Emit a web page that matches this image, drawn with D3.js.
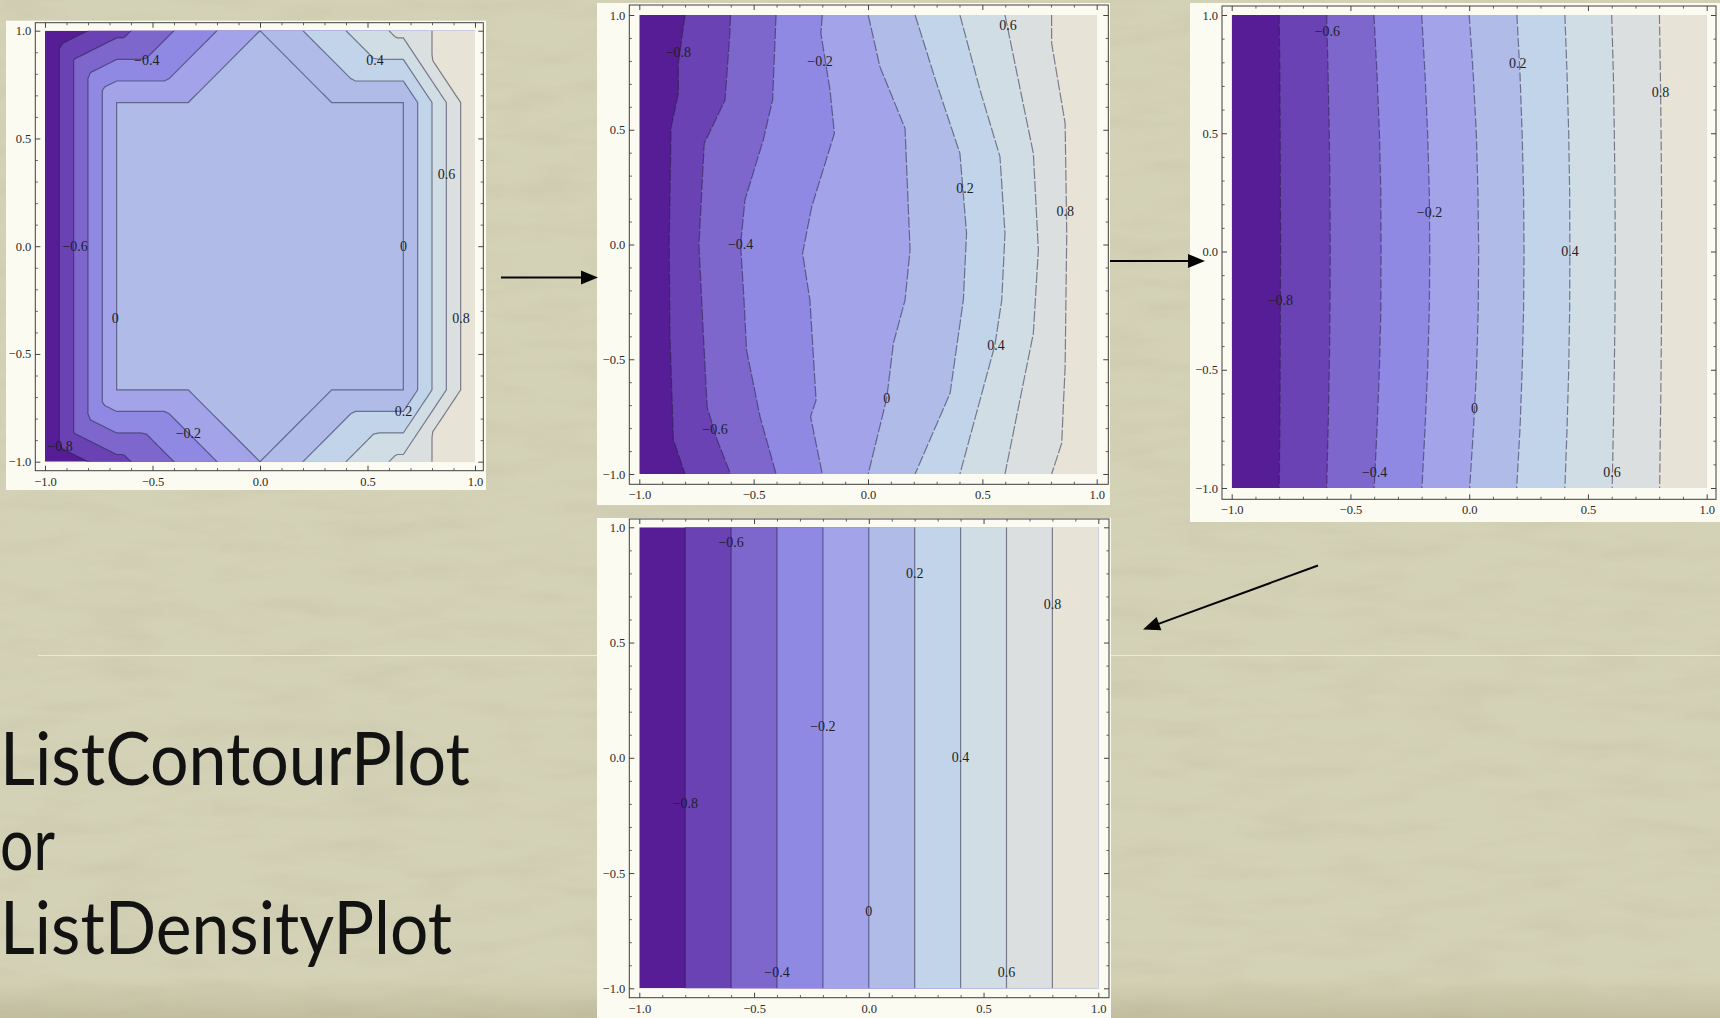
<!DOCTYPE html>
<html>
<head>
<meta charset="utf-8">
<script src="https://cdn.jsdelivr.net/npm/d3@7"></script>
<style>
  html, body { margin: 0; padding: 0; overflow: hidden; background: #d5d3b7; }
  svg { display: block; }
</style>
</head>
<body>
<svg id="slide" width="1720" height="1018"></svg>
<script>
// ---------- shared contour settings ----------
const levels = [-0.8, -0.6, -0.4, -0.2, 0, 0.2, 0.4, 0.6, 0.8];
const bandColors = ["#561d97", "#6a42b4", "#7d67cd", "#8f89e4", "#a2a3e8",
                    "#b0bce7", "#c1d4e9", "#d0dde4", "#dcdfdf", "#e7e3d7"];
const majorTicks = [-1, -0.5, 0, 0.5, 1];
const minorTicks = [-0.9, -0.8, -0.7, -0.6, -0.4, -0.3, -0.2, -0.1,
                    0.1, 0.2, 0.3, 0.4, 0.6, 0.7, 0.8, 0.9];

// ---------- stage 1: 7×7 samples, boundary u = x, interior 0 ----------
const stage1X = [-1, -0.6667, -0.3333, 0, 0.3333, 0.6667, 1];
const stage1Y = [1, 0.6667, 0.3333, 0, -0.3333, -0.6667, -1];
const stage1Values = [
  [-1, -0.6667, -0.3333, 0, 0.3333, 0.6667, 1],
  [-1, 0, 0, 0, 0, 0, 1],
  [-1, 0, 0, 0, 0, 0, 1],
  [-1, 0, 0, 0, 0, 0, 1],
  [-1, 0, 0, 0, 0, 0, 1],
  [-1, 0, 0, 0, 0, 0, 1],
  [-1, -0.6667, -0.3333, 0, 0.3333, 0.6667, 1]
];
// mesh split of each cell: "b" = top-left to bottom-right, "f" = top-right to bottom-left
const stage1Mesh = ["bbfbfb", "bbbbbb", "bbbbbb", "bbbbbb", "bbbbbb", "ffbfbf"];
// [level, x, y] of each contour label
const stage1Labels = [
  [-0.4, -0.527, 0.864], [0.4, 0.535, 0.864], [0.6, 0.868, 0.335],
  [-0.6, -0.86, 0], [0, 0.667, 0], [0, -0.673, -0.335], [0.8, 0.935, -0.335],
  [0.2, 0.667, -0.768], [-0.2, -0.333, -0.869], [-0.8, -0.93, -0.93]
];

// ---------- stage 2: contour lines, [x, y] from top to bottom, one per level ----------
const stage2Lines = [
  [[-0.800, 1], [-0.829, 0.79], [-0.829, 0.66], [-0.861, 0.51], [-0.869, 0.02], [-0.866, -0.39], [-0.851, -0.85], [-0.800, -1]],
  [[-0.601, 1], [-0.604, 0.92], [-0.625, 0.63], [-0.716, 0.44], [-0.739, 0.0], [-0.720, -0.39], [-0.703, -0.71], [-0.660, -0.85], [-0.601, -1]],
  [[-0.402, 1], [-0.417, 0.63], [-0.458, 0.455], [-0.538, 0.194], [-0.557, 0], [-0.542, -0.242], [-0.531, -0.46], [-0.472, -0.75], [-0.402, -1]],
  [[-0.200, 1], [-0.206, 0.92], [-0.166, 0.673], [-0.147, 0.484], [-0.246, 0.165], [-0.286, -0.038], [-0.254, -0.242], [-0.227, -0.678], [-0.251, -0.75], [-0.200, -1]],
  [[0.001, 1], [0.052, 0.775], [0.162, 0.506], [0.184, -0.024], [0.162, -0.242], [0.111, -0.431], [0.082, -0.67], [0.001, -1]],
  [[0.206, 1], [0.300, 0.702], [0.402, 0.397], [0.431, 0.049], [0.417, -0.242], [0.359, -0.648], [0.206, -1]],
  [[0.402, 1], [0.490, 0.673], [0.577, 0.383], [0.599, 0.049], [0.585, -0.242], [0.555, -0.438], [0.402, -1]],
  [[0.599, 1], [0.723, 0.397], [0.745, -0.024], [0.723, -0.387], [0.599, -1]],
  [[0.803, 1], [0.803, 0.877], [0.862, 0.528], [0.869, 0.049], [0.862, -0.532], [0.847, -0.866], [0.803, -1]]
];
const stage2Labels = [
  [-0.8, -0.829, 0.836], [-0.2, -0.21, 0.797], [0.6, 0.612, 0.956], [0.2, 0.424, 0.245],
  [0.8, 0.862, 0.143], [-0.4, -0.557, 0], [0.4, 0.56, -0.438], [0, 0.082, -0.67], [-0.6, -0.669, -0.808]
];

// ---------- stage 3: contour x positions at fixed heights ----------
const stage3Rows = [1, 0.75, 0.5, 0.25, 0, -0.25, -0.5, -0.75, -1];
const stage3X = [
  [-0.800, -0.797, -0.796, -0.795, -0.794, -0.795, -0.796, -0.797, -0.800],
  [-0.600, -0.594, -0.589, -0.586, -0.585, -0.586, -0.589, -0.594, -0.600],
  [-0.401, -0.388, -0.378, -0.372, -0.371, -0.372, -0.378, -0.388, -0.400],
  [-0.200, -0.186, -0.175, -0.168, -0.166, -0.168, -0.175, -0.186, -0.199],
  [0.000, 0.017, 0.030, 0.037, 0.040, 0.038, 0.031, 0.018, 0.002],
  [0.201, 0.214, 0.223, 0.229, 0.231, 0.229, 0.223, 0.214, 0.200],
  [0.403, 0.412, 0.419, 0.423, 0.424, 0.423, 0.419, 0.412, 0.403],
  [0.600, 0.607, 0.611, 0.614, 0.615, 0.614, 0.611, 0.607, 0.602],
  [0.801, 0.805, 0.808, 0.810, 0.810, 0.810, 0.808, 0.805, 0.802]
];
const stage3Labels = [
  [-0.6, -0.597, 0.932], [0.2, 0.204, 0.795], [0.8, 0.805, 0.671], [-0.2, -0.167, 0.164],
  [0.4, 0.424, 0.002], [-0.8, -0.795, -0.207], [0, 0.022, -0.665], [-0.4, -0.398, -0.934], [0.6, 0.601, -0.934]
];

// ---------- stage 4: converged field u = x ----------
const stage4X = [-0.8, -0.6, -0.4, -0.2, 0, 0.2, 0.4, 0.6, 0.8];
const stage4Labels = [
  [-0.6, -0.6, 0.933], [0.2, 0.2, 0.8], [0.8, 0.8, 0.667], [-0.2, -0.2, 0.135],
  [0.4, 0.4, 0], [-0.8, -0.8, -0.197], [0, 0, -0.667], [-0.4, -0.4, -0.932], [0.6, 0.6, -0.932]
];

// ---------- slide text ----------
const titleLines = ["ListContourPlot", "or", "ListDensityPlot"];

// ---------- page layout (pixels) ----------
const panelBoxes = [
  { id: 1, paper: [6, 20.7, 486, 490],   plot: [45, 30.7, 475, 461.7],      frame: [35.3, 22.7, 483.3, 470.7] },
  { id: 2, paper: [597, 3, 1110, 505],   plot: [639.3, 15, 1096.7, 474],    frame: [629.3, 5, 1108.3, 484.3] },
  { id: 3, paper: [1190, 3, 1720, 522],  plot: [1231.7, 15, 1706.7, 488],   frame: [1222, 6, 1716, 499.3] },
  { id: 4, paper: [597, 518, 1111, 1018], plot: [639.3, 527.3, 1098.3, 988.3], frame: [629.3, 519, 1109, 997.7] }
];

const svg = d3.select("#slide");
const defs = svg.append("defs");

// ---------- paper background ----------
svg.append("rect").attr("width", 1720).attr("height", 1018).attr("fill", "#d4d2b6");
const paper = defs.append("filter").attr("id", "paperGrain")
  .attr("x", 0).attr("y", 0).attr("width", "100%").attr("height", "100%");
paper.append("feTurbulence").attr("type", "fractalNoise")
  .attr("baseFrequency", "0.012 0.05").attr("numOctaves", 4).attr("seed", 11);
paper.append("feColorMatrix").attr("type", "matrix")
  .attr("values", "0 0 0 0 0.45  0 0 0 0 0.43  0 0 0 0 0.30  0.8 0 0 0 -0.33");
svg.append("rect").attr("width", 1720).attr("height", 1018)
  .attr("filter", "url(#paperGrain)").attr("opacity", 0.45);
const floor = defs.append("linearGradient").attr("id", "floorShade")
  .attr("x1", 0).attr("y1", 0).attr("x2", 0).attr("y2", 1);
floor.append("stop").attr("offset", 0).attr("stop-color", "#9c8f6c").attr("stop-opacity", 0);
floor.append("stop").attr("offset", 1).attr("stop-color", "#9c8f6c").attr("stop-opacity", 0.3);
svg.append("rect").attr("x", 0).attr("y", 978).attr("width", 1720).attr("height", 40)
  .attr("fill", "url(#floorShade)");

// title rule
svg.append("line").attr("x1", 38).attr("x2", 1720).attr("y1", 655.5).attr("y2", 655.5)
  .attr("stroke", "#eeeee8").attr("stroke-width", 1).attr("opacity", 0.85);

// ---------- helpers ----------
const fmtTick = d3.format(".1f");
const fmtLevel = v => (v === 0 ? "0" : d3.format(".1f")(v));
const lineStroke = "rgba(34,30,62,0.52)";

// Piecewise-linear field on the triangles of each cell, sampled finely so that
// d3.contours follows the triangle geometry.
function triangulatedField(values, mesh, k) {
  const rows = values.length, cols = values[0].length;
  const W = (cols - 1) * k + 1, H = (rows - 1) * k + 1;
  const out = new Float64Array(W * H);
  for (let r = 0; r < H; r++) {
    for (let c = 0; c < W; c++) {
      const i = Math.min(Math.floor(c / k), cols - 2);
      const j = Math.min(Math.floor(r / k), rows - 2);
      const u = c / k - i, v = r / k - j;
      const tl = values[j][i], tr = values[j][i + 1];
      const bl = values[j + 1][i], br = values[j + 1][i + 1];
      let val;
      if (mesh[j][i] === "f") {
        val = (u + v <= 1) ? tl + u * (tr - tl) + v * (bl - tl)
                           : br + (1 - u) * (bl - br) + (1 - v) * (tr - br);
      } else {
        val = (u >= v) ? tl + u * (tr - tl) + v * (br - tr)
                       : tl + v * (bl - tl) + u * (br - bl);
      }
      out[r * W + c] = Math.round(val * 1e9) / 1e9;
    }
  }
  return { out, W, H };
}

function drawFrame(g, box, x, y) {
  const [l, t, r, b] = box.frame;
  const sides = [
    { make: d3.axisBottom, scale: x, at: `translate(0,${b})`, labelled: true },
    { make: d3.axisLeft,   scale: y, at: `translate(${l},0)`, labelled: true },
    { make: d3.axisTop,    scale: x, at: `translate(0,${t})`, labelled: false },
    { make: d3.axisRight,  scale: y, at: `translate(${r},0)`, labelled: false }
  ];
  sides.forEach(s => {
    const minor = g.append("g").attr("transform", s.at)
      .call(s.make(s.scale).tickValues(minorTicks).tickSizeInner(-2.6).tickSizeOuter(0).tickFormat(() => ""));
    minor.select(".domain").remove();
    minor.selectAll("line").attr("stroke", "#555").attr("stroke-width", 0.9);
    const major = g.append("g").attr("transform", s.at)
      .call(s.make(s.scale).tickValues(majorTicks).tickSizeInner(-5).tickSizeOuter(0)
        .tickPadding(s.labelled ? (s.make === d3.axisBottom ? 6 : 4) : 0)
        .tickFormat(s.labelled ? fmtTick : () => ""));
    major.select(".domain").remove();
    major.selectAll("line").attr("stroke", "#444").attr("stroke-width", 1);
    major.attr("font-family", "'Liberation Serif', 'DejaVu Serif', serif").attr("font-size", 12.5);
    major.selectAll("text").attr("fill", "#2a2a2a");
  });
  g.append("rect").attr("x", l).attr("y", t).attr("width", r - l).attr("height", b - t)
    .attr("fill", "none").attr("stroke", "#3f3f3f").attr("stroke-width", 1);
}

function drawLabels(g, x, y, labels) {
  g.append("g").selectAll("text").data(labels).join("text")
    .attr("x", d => x(d[1])).attr("y", d => y(d[2]))
    .attr("text-anchor", "middle").attr("dominant-baseline", "central")
    .attr("font-family", "'Liberation Serif', 'DejaVu Serif', serif")
    .attr("font-size", 14).attr("fill", "#1e1e2a")
    .text(d => fmtLevel(d[0]));
}

// filled bands bounded by contour polylines (each line runs top to bottom)
function drawLineBands(g, x, y, lines, dash) {
  const line = d3.line().x(d => x(d[0])).y(d => y(d[1]));
  lines.forEach((pts, k) => {
    const ring = [[pts[0][0], 1.2], ...pts, [pts[pts.length - 1][0], -1.2], [1.2, -1.2], [1.2, 1.2]];
    g.append("path").attr("d", line(ring) + "Z").attr("fill", bandColors[k + 1]);
  });
  lines.forEach(pts => {
    g.append("path").attr("d", line(pts)).attr("fill", "none")
      .attr("stroke", lineStroke).attr("stroke-width", 1.2)
      .attr("stroke-dasharray", dash || null);
  });
}

function panel(box, drawBands, labels) {
  const g = svg.append("g");
  const [pl, pt, pr, pb] = box.paper;
  g.append("rect").attr("x", pl).attr("y", pt).attr("width", pr - pl).attr("height", pb - pt)
    .attr("fill", "#fcfbf2");
  const x = d3.scaleLinear().domain([-1, 1]).range([box.plot[0], box.plot[2]]);
  const y = d3.scaleLinear().domain([-1, 1]).range([box.plot[3], box.plot[1]]);
  defs.append("clipPath").attr("id", "plotClip" + box.id).append("rect")
    .attr("x", x(-1)).attr("y", y(1)).attr("width", x(1) - x(-1)).attr("height", y(-1) - y(1));
  const area = g.append("g").attr("clip-path", `url(#plotClip${box.id})`);
  area.append("rect").attr("x", x(-1)).attr("y", y(1))
    .attr("width", x(1) - x(-1)).attr("height", y(-1) - y(1)).attr("fill", bandColors[0]);
  drawBands(area, x, y);
  drawLabels(g, x, y, labels);
  drawFrame(g, box, x, y);
}

// ---------- stage 1 ----------
panel(panelBoxes[0], (g, x, y) => {
  const field = triangulatedField(stage1Values, stage1Mesh, 12);
  const x0 = stage1X[0], x1 = stage1X[stage1X.length - 1];
  const y0 = stage1Y[0], y1 = stage1Y[stage1Y.length - 1];
  const toPlot = d3.geoTransform({
    point(px, py) {
      this.stream.point(
        x(x0 + (px - 0.5) * (x1 - x0) / (field.W - 1)),
        y(y0 + (py - 0.5) * (y1 - y0) / (field.H - 1)));
    }
  });
  const path = d3.geoPath(toPlot);
  const contourGen = d3.contours().size([field.W, field.H]);
  const bands = contourGen.thresholds(levels)(field.out);
  bands.forEach((c, k) => g.append("path").attr("d", path(c)).attr("fill", bandColors[k + 1]));
  bands.forEach(c => g.append("path").attr("d", path(c)).attr("fill", "none")
    .attr("stroke", lineStroke).attr("stroke-width", 1.2));
  // the zero level also bounds the flat plateau from the positive side
  const positiveEdge = contourGen.thresholds([1e-6])(field.out);
  positiveEdge.forEach(c => g.append("path").attr("d", path(c)).attr("fill", "none")
    .attr("stroke", lineStroke).attr("stroke-width", 1.2));
}, stage1Labels);

// ---------- stage 2 ----------
panel(panelBoxes[1], (g, x, y) => drawLineBands(g, x, y, stage2Lines, "11,2"), stage2Labels);

// ---------- stage 3 ----------
panel(panelBoxes[2], (g, x, y) => {
  const lines = stage3X.map(xs => xs.map((v, i) => [v, stage3Rows[i]]));
  drawLineBands(g, x, y, lines, "9,2.5");
}, stage3Labels);

// ---------- stage 4 ----------
panel(panelBoxes[3], (g, x, y) => {
  const lines = stage4X.map(v => [[v, 1], [v, -1]]);
  drawLineBands(g, x, y, lines, null);
}, stage4Labels);

// ---------- arrows between stages ----------
function arrow(from, to) {
  const dx = to[0] - from[0], dy = to[1] - from[1];
  const len = Math.hypot(dx, dy), ux = dx / len, uy = dy / len;
  const headLen = 17, headHalf = 7;
  const bx = to[0] - ux * headLen, by = to[1] - uy * headLen;
  svg.append("line").attr("x1", from[0]).attr("y1", from[1])
    .attr("x2", bx + ux * 2).attr("y2", by + uy * 2)
    .attr("stroke", "#050505").attr("stroke-width", 2);
  svg.append("path")
    .attr("d", `M${to[0]},${to[1]}L${bx - uy * headHalf},${by + ux * headHalf}L${bx + uy * headHalf},${by - ux * headHalf}Z`)
    .attr("fill", "#050505");
}
const b1 = panelBoxes[0], b2 = panelBoxes[1], b3 = panelBoxes[2], b4 = panelBoxes[3];
arrow([b1.paper[2] + 15, 277.5], [b2.paper[0] + 1, 277.5]);
arrow([b2.paper[2], 261], [b3.paper[0] + 15, 261]);
arrow([1318, 565.5], [b4.paper[2] + 32, 629.5]);

// ---------- slide text ----------
const titleWidths = [470, 55, 452];
svg.append("g").selectAll("text").data(titleLines).join("text")
  .attr("x", 0)
  .attr("y", (d, i) => 785 + i * 84.5)
  .attr("font-family", "Lato, 'Open Sans', sans-serif")
  .attr("font-weight", 400)
  .attr("font-size", 73)
  .attr("fill", "#121212")
  .attr("textLength", (d, i) => titleWidths[i])
  .attr("lengthAdjust", "spacingAndGlyphs")
  .text(d => d);
</script>
</body>
</html>
